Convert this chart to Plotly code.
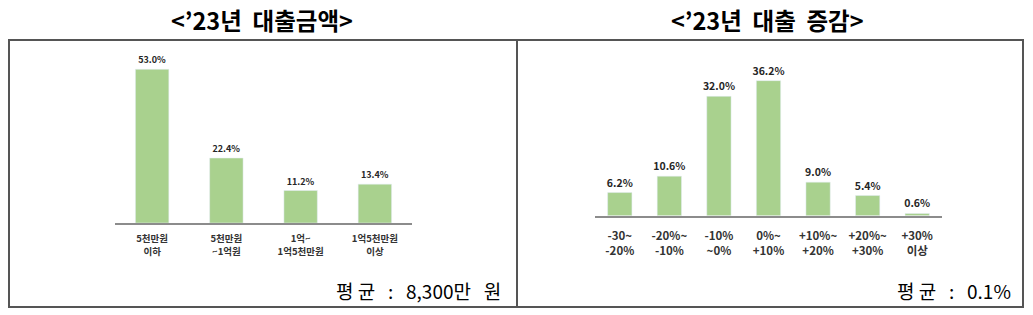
import plotly.graph_objects as go

W, H = 1033, 315

amount_cats = ["5천만원<br>이하", "5천만원<br>~1억원", "1억~<br>1억5천만원", "1억5천만원<br>이상"]
amount_vals = [53.0, 22.4, 11.2, 13.4]

change_cats = ["-30~<br>-20%", "-20%~<br>-10%", "-10%<br>~0%", "0%~<br>+10%",
               "+10%~<br>+20%", "+20%~<br>+30%", "+30%<br>이상"]
change_vals = [6.2, 10.6, 32.0, 36.2, 9.0, 5.4, 0.6]

NB = "\u00a0"
titles = ["&lt;’23년" + NB * 2 + "대출금액&gt;",
          "&lt;’23년" + NB * 2 + "대출" + NB * 2 + "증감&gt;"]
means = ["평" + NB + "균" + NB * 3 + ":" + NB * 3 + "8,300만" + NB * 3 + "원",
         "평" + NB + "균" + NB * 3 + ":" + NB * 3 + "0.1%"]

GREEN = "#A9D18E"
KFONT = "Noto Sans CJK KR"

def px(x):
    return x / W

def py(y):
    return 1 - y / H

fig = go.Figure()
fig.add_trace(go.Bar(
    x=list(range(len(amount_vals))), y=amount_vals, marker_color=GREEN, width=0.45,
    texttemplate="%{y:.1f}%", textposition="outside", cliponaxis=False,
    constraintext="none",
    textfont=dict(family=KFONT, size=9, color="#262626", weight="bold"),
    xaxis="x", yaxis="y", hoverinfo="skip"))
fig.add_trace(go.Bar(
    x=list(range(len(change_vals))), y=change_vals, marker_color=GREEN, width=0.49,
    texttemplate="%{y:.1f}%", textposition="outside", cliponaxis=False,
    constraintext="none",
    textfont=dict(family=KFONT, size=10.5, color="#262626", weight="bold"),
    xaxis="x2", yaxis="y2", hoverinfo="skip"))

axis_common = dict(showgrid=False, zeroline=False, fixedrange=True)
fig.update_layout(
    width=W, height=H, margin=dict(l=0, r=0, t=0, b=0),
    paper_bgcolor="white", plot_bgcolor="white", showlegend=False,
    xaxis=dict(domain=[px(115), px(412)], range=[-0.5, 3.5],
               tickmode="array", tickvals=list(range(4)), ticktext=amount_cats,
               tickfont=dict(family=KFONT, size=9.5, color="#333333", weight="bold"),
               showline=True, linecolor="#8c8c8c", linewidth=1.5, ticks="",
               ticklabelstandoff=6, anchor="y", **axis_common),
    yaxis=dict(domain=[py(223), py(49)], range=[0, 60], visible=False,
               anchor="x", **axis_common),
    xaxis2=dict(domain=[px(595), px(942)], range=[-0.5, 6.5],
                tickmode="array", tickvals=list(range(7)), ticktext=change_cats,
                tickfont=dict(family=KFONT, size=11.5, color="#333333", weight="bold"),
                showline=True, linecolor="#8c8c8c", linewidth=1.5, ticks="",
                ticklabelstandoff=9, anchor="y2", **axis_common),
    yaxis2=dict(domain=[py(215.7), py(66.5)], range=[0, 40], visible=False,
                anchor="x2", **axis_common),
    font=dict(family=KFONT),
)

# border box and divider
fig.add_shape(type="rect", xref="paper", yref="paper",
              x0=px(9), x1=px(1023), y0=py(307), y1=py(40),
              line=dict(color="#555555", width=2))
fig.add_shape(type="line", xref="paper", yref="paper",
              x0=px(517), x1=px(517), y0=py(307), y1=py(40),
              line=dict(color="#555555", width=2))

# titles
for cx, t in zip([262, 767], titles):
    fig.add_annotation(x=px(cx), y=py(20), xref="paper", yref="paper",
                       text=t, showarrow=False, xanchor="center", yanchor="middle",
                       font=dict(family=KFONT, size=23.5, color="#000000", weight="bold"))

# averages
for rx, t in zip([503, 1013], means):
    fig.add_annotation(x=px(rx), y=py(290), xref="paper", yref="paper",
                       text=t, showarrow=False, xanchor="right", yanchor="middle",
                       font=dict(family=KFONT, size=19, color="#000000"))

fig.write_html("out.html")
